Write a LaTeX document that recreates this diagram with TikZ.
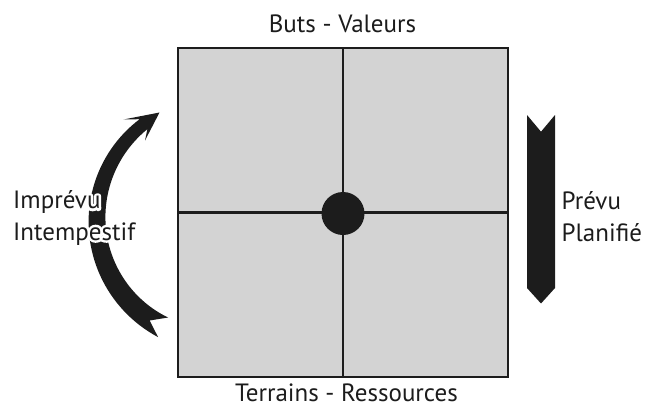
\documentclass[tikz,border=0pt]{standalone}
\usepackage{fontspec}
\setmainfont{PT Sans}
\definecolor{ink}{HTML}{1C1C1C}
\definecolor{cell}{HTML}{D3D3D3}
\newcommand{\halotxt}[1]{\makebox[0pt][l]{\color{white}\special{pdf:literal direct 2 Tr 5 w 1 J 1 j}#1\special{pdf:literal direct 0 Tr}}#1}
\tikzset{
  lbl/.style={inner sep=0pt, font=\fontsize{25}{30}\selectfont, text=ink},
  grid/.style={draw=ink, line width=2.7pt},
  shape fill/.style={fill=ink, draw=none},
  declare function={hh(\t)=6.3+(\t-128)*4.7/115;}
}
\begin{document}
\begin{tikzpicture}[x=1pt, y=-1pt]
\useasboundingbox (0,0) rectangle (646,407);
% square
\node[grid, fill=cell, minimum width=330pt, minimum height=329pt, inner sep=0pt, outer sep=0pt] (sq) at (343,212.5) {};
\draw[grid] (sq.north) -- (sq.south);
\draw[grid] (sq.west) -- (sq.east);
\node[circle, fill=ink, minimum size=43pt, inner sep=0pt] (dot) at (343,213.5) {};
% labels top/bottom
\node[lbl, anchor=base] (top) at (342.5,32.5) {Buts - Valeurs};
\node[lbl, anchor=base] (bot) at (346.5,401) {Terrains - Ressources};
% right arrow
\fill[shape fill] (527,115) -- (541,131.7) -- (555,115) -- (555,288) -- (541,303.5) -- (527,288) -- cycle;
\node[lbl, anchor=base west] (prevu) at (561.5,209.5) {Prévu};
\node[lbl, anchor=base west] (plan) at (561.5,241) {Planifié};
% left curved arrow
\fill[shape fill]
  plot[domain=128:243, samples=50] ({218+(121+hh(\x))*cos(\x)}, {219.5-(121+hh(\x))*sin(\x)})
  -- (149.7,320.5)
  -- plot[domain=243:128, samples=50] ({218+(121-hh(\x))*cos(\x)}, {219.5-(121-hh(\x))*sin(\x)})
  -- (145,140.5) -- (159.5,112.5) -- (123.5,119.5) -- cycle;
\node[lbl, anchor=base west] (imp) at (13,208.5) {\halotxt{Imprévu}};
\node[lbl, anchor=base west] (inte) at (13,240) {\halotxt{Intempestif}};
\end{tikzpicture}
\end{document}
